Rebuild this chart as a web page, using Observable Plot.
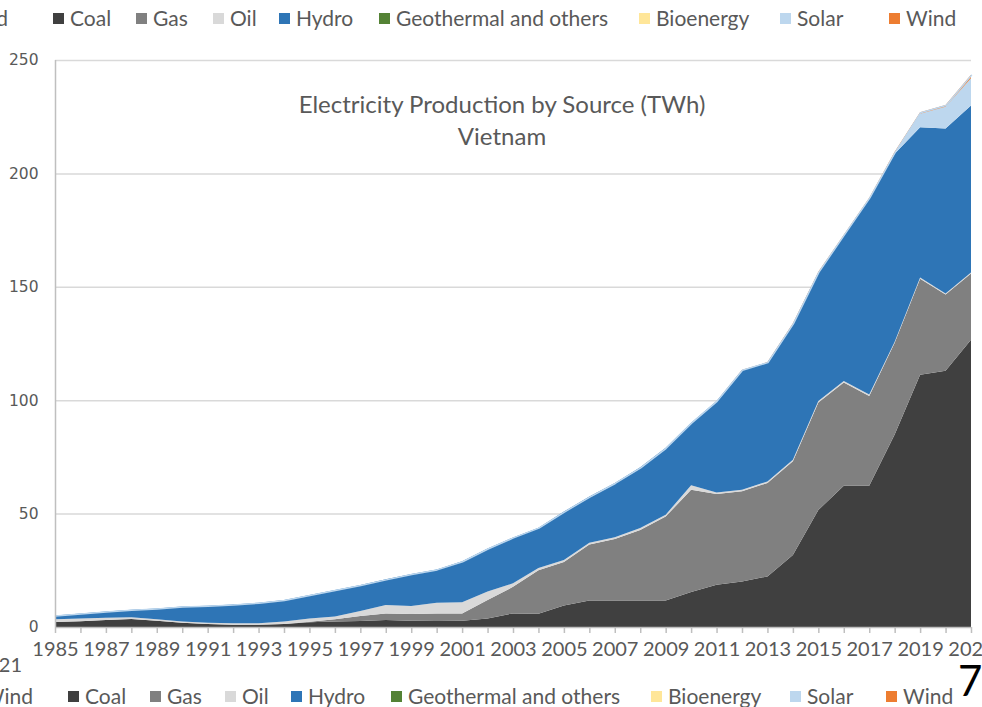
<!DOCTYPE html>
<html><head><meta charset="utf-8">
<script src="https://cdn.jsdelivr.net/npm/d3@7"></script>
<script src="https://cdn.jsdelivr.net/npm/@observablehq/plot@0.6"></script>
<style>
html,body{margin:0;padding:0;background:#fff;}
#wrap{position:relative;width:982px;height:707px;overflow:hidden;font-family:Lato,sans-serif;color:#595959;}
#chart{position:absolute;left:0;top:0;}
.item{position:absolute;display:flex;align-items:center;font-size:21px;line-height:24px;white-space:nowrap;}
.sw{width:11px;height:11px;margin-right:6px;flex:none;}
.frag{position:absolute;white-space:nowrap;}
#title{position:absolute;left:202px;width:600px;top:88px;text-align:center;font-size:24px;line-height:32px;color:#595959;}
</style></head>
<body><div id="wrap"><div id="chart"></div></div>
<script>
// ---- data (TWh) ----
const years = [1985,1986,1987,1988,1989,1990,1991,1992,1993,1994,1995,1996,1997,1998,1999,2000,2001,2002,2003,2004,2005,2006,2007,2008,2009,2010,2011,2012,2013,2014,2015,2016,2017,2018,2019,2020,2021];
const coal = [2.2,2.5,3.1,3.5,2.8,1.9,1.3,1.0,1.0,1.3,2.1,2.4,2.6,3.1,2.8,2.6,2.8,3.8,6.0,5.8,9.5,11.7,11.7,11.7,11.7,15.4,18.6,20.1,22.3,31.7,51.6,62.3,62.3,84.9,111.2,113.0,126.6];
const gas = [0,0,0,0,0,0,0,0,0,0,0.2,1.0,2.3,2.9,2.9,3.4,3.2,8.1,11.7,19.2,19.2,24.7,27.1,31.1,37.0,45.1,40.0,39.7,41.2,41.4,47.4,45.5,39.6,40.4,42.4,33.6,29.3];
const oil = [1.2,1.2,1.0,0.8,0.6,0.5,0.6,0.6,0.6,1.1,1.5,1.2,2.2,3.7,3.6,4.7,4.9,3.7,1.6,1.0,0.8,0.8,0.8,0.8,0.8,2.0,0.7,0.7,0.7,0.6,0.6,0.7,0.6,0.5,0.5,0.5,0.4];
const hydro = [1.7,2.2,2.7,3.3,4.8,6.6,7.5,8.3,9.1,9.5,10.3,11.7,11.4,11.3,14.1,14.7,18.1,19.0,20.2,17.8,21.4,20.3,23.9,26.8,29.5,27.6,40.4,52.8,52.5,60.0,56.8,64.2,86.5,82.9,66.3,72.7,73.6];
const geothermal = [0,0,0,0,0,0,0,0,0,0,0,0,0,0,0,0,0,0,0,0,0,0,0,0,0,0,0,0,0,0,0,0,0,0,0,0,0];
const bioenergy = [0,0,0,0,0,0,0,0,0,0,0,0,0,0,0,0,0,0,0,0,0,0,0,0,0,0,0,0,0,0,0,0,0,0,0,0,0];
const solar = [0,0,0,0,0,0,0,0,0,0,0,0,0,0,0,0,0,0,0,0,0,0,0,0,0,0,0,0,0,0,0,0,0,0.3,5.9,9.6,12.1];
const wind = [0,0,0,0,0,0,0,0,0,0,0,0,0,0,0,0,0,0,0,0,0,0,0,0,0,0,0,0.1,0.1,0.2,0.2,0.3,0.3,0.5,0.7,0.8,1.5];
const sources = ["Coal","Gas","Oil","Hydro","Geothermal and others","Bioenergy","Solar","Wind"];
const colors = ["#404040","#808080","#d9d9d9","#2e75b6","#548235","#ffe699","#bdd7ee","#ed7d31"];
const yTicks = [0,50,100,150,200,250];
const xLabelYears = [1985,1987,1989,1991,1993,1995,1997,1999,2001,2003,2005,2007,2009,2011,2013,2015,2017,2019,2021];
const titleLines = ["Electricity Production by Source (TWh)","Vietnam"];

// ---- build table ----
const series = [coal,gas,oil,hydro,geothermal,bioenergy,solar,wind];
const table = [];
sources.forEach((s,i)=>years.forEach((y,j)=>table.push({year:y,source:s,value:series[i][j]})));
const totals = years.map((y,j)=>({year:y,total:d3.sum(series,a=>a[j])}));

const chart = Plot.plot({
  width: 982, height: 707,
  marginTop: 60, marginBottom: 80, marginLeft: 55, marginRight: 11,
  style: {fontFamily: "Lato, sans-serif", color: "#595959", background: "transparent"},
  x: {domain: [1985, 2021]},
  y: {domain: [0, 250]},
  color: {domain: sources, range: colors},
  marks: [
    Plot.gridY(yTicks.filter(d=>d>0), {stroke: "#d9d9d9", strokeOpacity: 1, strokeWidth: 1.5}),
    Plot.areaY(table, {x: "year", y: "value", fill: "source", order: sources}),
    Plot.lineY(totals, {x: "year", y: "total", stroke: "#bdd7ee", strokeWidth: 1.5}),
    Plot.ruleY([0], {stroke: "#bfbfbf", strokeWidth: 1.5}),
    Plot.ruleX([1985], {y1: 0, y2: 250, stroke: "#bfbfbf", strokeWidth: 1.5}),
    Plot.axisY(yTicks, {tickSize: 0, tickPadding: 17, fontSize: 15.5, fontFamily: "DejaVu Sans", fill: "#595959", label: null}),
    Plot.axisX(years, {tickSize: 6, stroke: "#bfbfbf", strokeWidth: 1.5, text: null, label: null}),
    Plot.axisX(xLabelYears, {tickSize: 0, tickPadding: 14, fontSize: 20, fill: "#595959", tickFormat: d => String(d), label: null})
  ]
});
document.getElementById("chart").appendChild(chart);

const wrap = document.getElementById("wrap");
// title
const t = document.createElement("div");
t.id = "title";
t.innerHTML = titleLines.map(s=>`<div>${s}</div>`).join("");
wrap.appendChild(t);

// legends
const topLegendX = [53,136,213,279,379,639,780,889];
const bottomLegendX = [68,150,225,291,391,651,790,886];
function legend(xs, top){
  sources.forEach((s,i)=>{
    const d = document.createElement("div");
    d.className = "item";
    d.style.left = xs[i]+"px"; d.style.top = top+"px";
    d.innerHTML = `<span class="sw" style="background:${colors[i]}"></span><span>${s}</span>`;
    wrap.appendChild(d);
  });
}
legend(topLegendX, 6);
legend(bottomLegendX, 684);

// cut-off fragments of the neighbouring slide
function frag(text, css){
  const d = document.createElement("div");
  d.className = "frag"; d.textContent = text;
  Object.assign(d.style, css);
  wrap.appendChild(d);
}
frag(sources[7], {right: "974px", top: "6px", fontSize: "21px", lineHeight: "24px"});
frag(sources[7], {right: "949px", top: "684px", fontSize: "21px", lineHeight: "24px"});
frag(String(years[years.length-1]), {right: "960px", top: "652px", fontSize: "20px", lineHeight: "24px"});
frag("7", {left: "958px", top: "666px", fontSize: "42px", lineHeight: "28px", color: "#000"});
</script>
</body></html>
